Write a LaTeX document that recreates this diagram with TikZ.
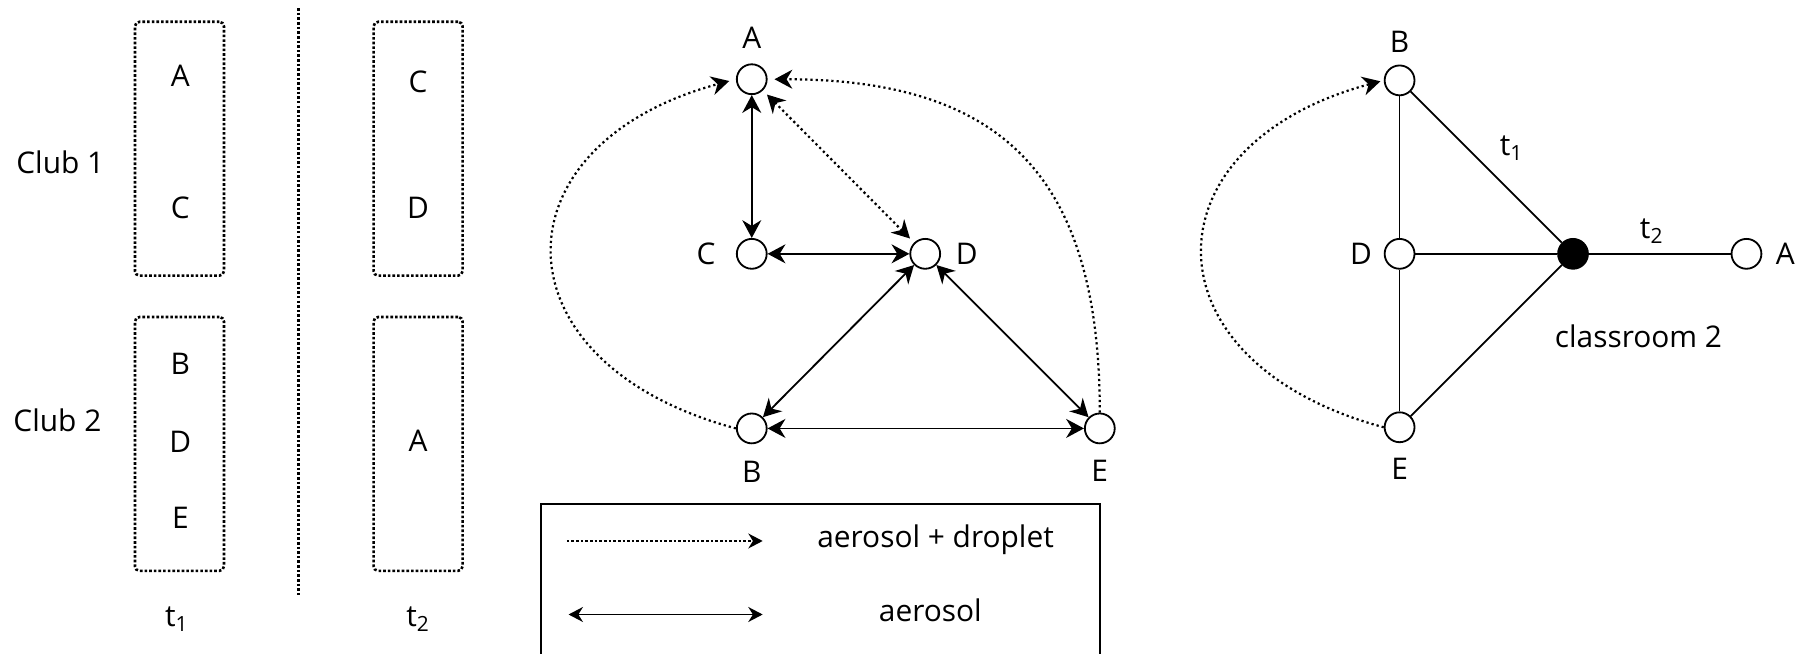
\documentclass[tikz,border=0pt]{standalone}
\usepackage{fontspec}
\setmainfont{Open Sans}
\usetikzlibrary{arrows.meta,positioning}
\tikzset{
  tipbig/.tip={Stealth[length=3.1mm, width=3.3mm, inset=1mm]},
  legtip/.tip={Stealth[length=2.5mm, width=2.6mm, inset=0.8mm]},
  vtx/.style ={draw, circle, fill=white, line width=0.9pt, inner sep=0pt, minimum size=5.2mm},
  hub/.style ={vtx, fill=black},
  lbl/.style ={inner sep=0pt, font=\fontsize{14.8}{17}\selectfont},
  clubbox/.style={draw, line width=1.3pt, dash pattern=on 1.3pt off 1pt, rounded corners=0.8mm,
    minimum width=15.5mm, minimum height=44.2mm},
  divider/.style={line width=1.3pt, dash pattern=on 1.3pt off 1pt},
  aer/.style ={line width=0.9pt, tipbig-tipbig},
  drop/.style={line width=1.1pt, dash pattern=on 1.1pt off 1.5pt, -tipbig, shorten >=1.2mm},
  link/.style={line width=0.9pt},
  legdot/.style={line width=0.7pt, dash pattern=on 1.3pt off 1pt},
}

\begin{document}
\begin{tikzpicture}
  \useasboundingbox (0,0) rectangle (31.36,11.38);

  % clubs at t1 and t2
  \node[lbl] (club1) at (1.05,8.56) {Club 1};
  \node[lbl] (club2) at (1.00,4.07) {Club 2};
  \node[clubbox] (boxA) at (3.125,8.79) {};
  \node[clubbox] (boxB) at (3.125,3.65) {};
  \node[clubbox] (boxC) at (7.28,8.79) {};
  \node[clubbox] (boxD) at (7.28,3.65) {};
  \node[lbl] (a1) at (3.14,10.06) {A};
  \node[lbl] (c1) at (3.14,7.76) {C};
  \node[lbl] (b1) at (3.14,5.04) {B};
  \node[lbl] (d1) at (3.14,3.68) {D};
  \node[lbl] (e1) at (3.14,2.36) {E};
  \node[lbl] (c2) at (7.28,9.95) {C};
  \node[lbl] (d2) at (7.28,7.76) {D};
  \node[lbl] (a2) at (7.28,3.70) {A};
  \node[lbl] (tone) at (3.08,0.60) {t\textsubscript{1}};
  \node[lbl] (ttwo) at (7.28,0.60) {t\textsubscript{2}};
  \coordinate (divtop) at (5.20,11.24);
  \coordinate (divbot) at (5.20,1.02);
  \draw[divider] (divtop) -- (divbot);

  % contact graph
  \node[vtx] (mA) at (13.09,10.00) {};
  \node[vtx] (mC) at (13.09,6.96) {};
  \node[vtx] (mD) at (16.11,6.96) {};
  \node[vtx] (mB) at (13.09,3.92) {};
  \node[vtx] (mE) at (19.15,3.92) {};
  \node[lbl, above=0.26cm of mA] (mAl) {A};
  \node[lbl, left=0.35cm of mC] (mCl) {C};
  \node[lbl, right=0.25cm of mD] (mDl) {D};
  \node[lbl, below=0.29cm of mB] (mBl) {B};
  \node[lbl, below=0.27cm of mE] (mEl) {E};
  \draw[aer] (mA) -- (mC);
  \draw[aer] (mC) -- (mD);
  \draw[aer] (mD) -- (mB);
  \draw[aer] (mD) -- (mE);
  \draw[aer] (mB) -- (mE);
  \draw[drop, tipbig-tipbig, shorten <=1mm, shorten >=1mm] (mA) -- (mD);
  \draw[drop] (mB.west) .. controls +(165:4.4) and +(195:4.4) .. (mA.west);
  \draw[drop] (mE.north) .. controls +(0,4.1) and +(4.1,0) .. (mA.east);

  % legend
  \node[draw, line width=0.9pt, minimum width=9.74cm, minimum height=2.9cm] (legend) at (14.29,1.15) {};
  \coordinate (dotS) at (9.87,1.96);
  \coordinate (dotE) at (13.28,1.96);
  \coordinate (aerS) at (9.90,0.68);
  \coordinate (aerE) at (13.28,0.68);
  \draw[legdot, -legtip] (dotS) -- (dotE);
  \draw[line width=0.9pt, legtip-legtip] (aerS) -- (aerE);
  \node[lbl, anchor=base] (legdrop) at (16.29,1.84) {aerosol + droplet};
  \node[lbl, anchor=base] (legaer) at (16.20,0.56) {aerosol};

  % classroom graph
  \node[vtx] (rB) at (24.37,9.98) {};
  \node[vtx] (rD) at (24.37,6.96) {};
  \node[vtx] (rE) at (24.37,3.94) {};
  \node[hub] (room) at (27.39,6.96) {};
  \node[vtx] (rA) at (30.41,6.96) {};
  \node[lbl, above=0.2cm of rB] (rBl) {B};
  \node[lbl, left=0.2cm of rD] (rDl) {D};
  \node[lbl, below=0.25cm of rE] (rEl) {E};
  \node[lbl, right=0.23cm of rA] (rAl) {A};
  \draw[link] (rB) -- (rD);
  \draw[link] (rD) -- (rE);
  \draw[link] (rB) -- (room);
  \draw[link] (rD) -- (room);
  \draw[link] (rE) -- (room);
  \draw[link] (room) -- (rA);
  \draw[drop, shorten >=0.6mm] (rE.west) .. controls +(165:4.35) and +(195:4.35) .. (rB.west);
  \node[lbl] (rt1) at (26.32,8.80) {t\textsubscript{1}};
  \node[lbl] (rt2) at (28.76,7.35) {t\textsubscript{2}};
  \node[lbl] (roomlbl) at (28.53,5.52) {classroom 2};
\end{tikzpicture}
\end{document}
